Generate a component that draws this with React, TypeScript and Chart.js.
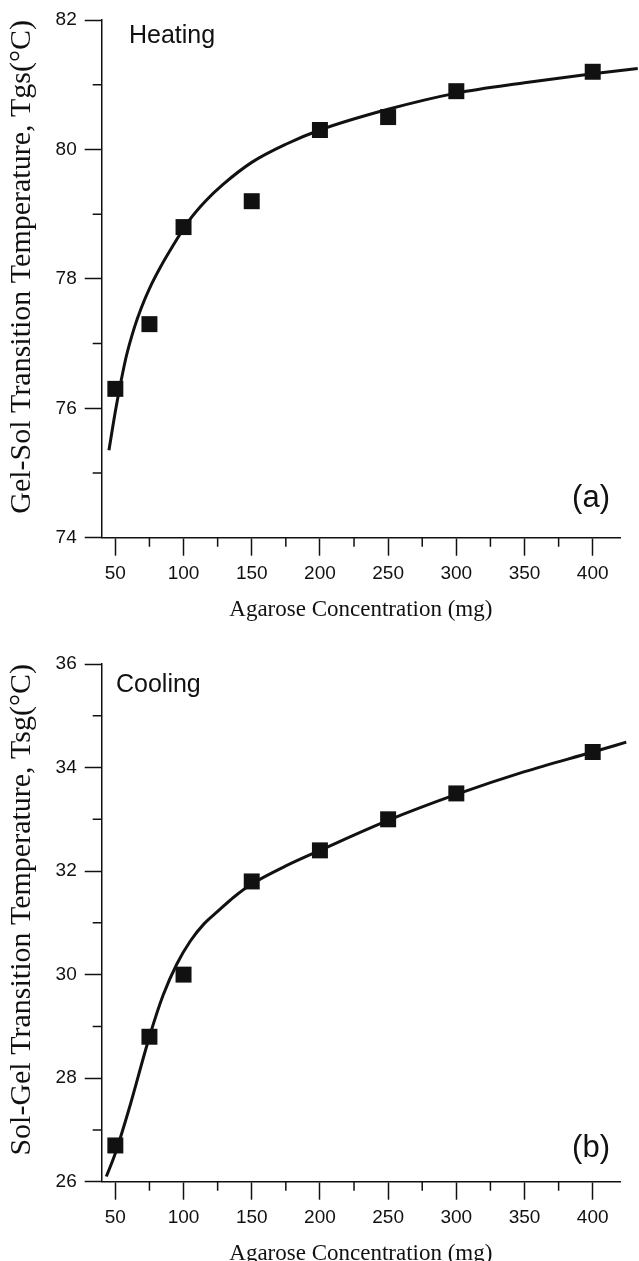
import React, { useEffect, useRef } from 'react';
import { Chart, registerables } from 'chart.js';

Chart.register(...registerables);

// Measured samples (agarose in mg)
const concentrations = [50, 75, 100, 150, 200, 250, 300, 400];
const heatingTemps = [76.3, 77.3, 78.8, 79.2, 80.3, 80.5, 80.9, 81.2];
const coolingTemps = [26.7, 28.8, 30.0, 31.8, 32.4, 33.0, 33.5, 34.3];

// Fitted trend curves
const heatingFitX = [45.3, 50, 54, 58, 64, 69, 75, 83, 91, 104, 116, 129, 150, 175, 200, 250, 300, 350, 400, 433];
const heatingFitY = [75.35, 75.95, 76.4, 76.8, 77.25, 77.55, 77.85, 78.18, 78.47, 78.9, 79.2, 79.46, 79.8, 80.08, 80.3, 80.62, 80.87, 81.03, 81.17, 81.25];
const coolingFitX = [43.4, 50, 60, 75, 85, 95, 105, 115, 125, 137, 150, 175, 200, 250, 300, 350, 400, 424.6];
const coolingFitY = [26.1, 26.55, 27.4, 28.8, 29.6, 30.2, 30.65, 30.98, 31.22, 31.5, 31.75, 32.1, 32.4, 32.98, 33.48, 33.92, 34.3, 34.49];

// Axis ticks
const xTickValues = [50, 100, 150, 200, 250, 300, 350, 400];
const xMinorTicks = [75, 125, 175, 225, 275, 325, 375];
const heatingYTicks = [74, 76, 78, 80, 82];
const heatingYMinor = [75, 77, 79, 81];
const coolingYTicks = [26, 28, 30, 32, 34, 36];
const coolingYMinor = [27, 29, 31, 33, 35];

const INK = '#111111';
const SANS = '"Liberation Sans", Arial, Helvetica, sans-serif';
const SERIF = '"Liberation Serif", "Times New Roman", serif';
const W = 639;
const H = 644;

const panelDecor = {
  id: 'panelDecor',
  afterDraw(chart: any, _args: any, opts: any) {
    const { ctx } = chart;
    const xs = chart.scales.x;
    const ys = chart.scales.y;
    ctx.save();
    ctx.strokeStyle = INK;
    ctx.lineWidth = 1.5;
    ctx.beginPath();
    for (const v of opts.minorX) {
      const px = xs.getPixelForValue(v);
      ctx.moveTo(px, ys.bottom);
      ctx.lineTo(px, ys.bottom + 9);
    }
    for (const v of opts.minorY) {
      const py = ys.getPixelForValue(v);
      ctx.moveTo(xs.left, py);
      ctx.lineTo(xs.left - 9, py);
    }
    ctx.stroke();

    ctx.fillStyle = INK;
    ctx.font = `25px ${SANS}`;
    ctx.textAlign = 'left';
    ctx.textBaseline = 'alphabetic';
    ctx.fillText(opts.name, opts.nameX, opts.nameY);
    ctx.font = `31px ${SANS}`;
    ctx.textAlign = 'right';
    ctx.fillText(opts.letter, opts.letterX, opts.letterY);
    ctx.restore();
  },
};

type Panel = {
  temps: number[];
  fitX: number[];
  fitY: number[];
  yTicks: number[];
  yMinor: number[];
  yTitle: string;
  name: string;
  nameX: number;
  nameY: number;
  letter: string;
  letterY: number;
};

function buildConfig(p: Panel): any {
  return {
    type: 'scatter',
    data: {
      datasets: [
        {
          label: 'fit',
          data: p.fitX.map((x, i) => ({ x, y: p.fitY[i] })),
          showLine: true,
          borderColor: INK,
          borderWidth: 3,
          pointRadius: 0,
          cubicInterpolationMode: 'monotone',
          clip: false,
        },
        {
          label: 'measured',
          data: concentrations.map((x, i) => ({ x, y: p.temps[i] })),
          pointStyle: 'rect',
          pointRadius: 11.3,
          pointBorderWidth: 0,
          backgroundColor: INK,
          borderColor: INK,
          clip: false,
        },
      ],
    },
    options: {
      responsive: false,
      animation: false,
      layout: { padding: { top: 20, right: 19, left: 0, bottom: 0 } },
      plugins: {
        legend: { display: false },
        tooltip: { enabled: false },
        panelDecor: {
          minorX: xMinorTicks,
          minorY: p.yMinor,
          name: p.name,
          nameX: p.nameX,
          nameY: p.nameY,
          letter: p.letter,
          letterX: 610,
          letterY: p.letterY,
        },
      },
      scales: {
        x: {
          type: 'linear',
          min: 40,
          max: 420,
          afterBuildTicks: (s: any) => {
            s.ticks = xTickValues.map((v) => ({ value: v }));
          },
          afterFit: (s: any) => {
            s.height = H - 537.7;
          },
          ticks: {
            autoSkip: false,
            maxRotation: 0,
            padding: 7,
            color: INK,
            font: { family: SANS, size: 19 },
          },
          grid: {
            drawOnChartArea: false,
            drawTicks: true,
            tickLength: 18,
            tickWidth: 1.5,
            tickColor: INK,
          },
          border: { display: true, color: INK, width: 1.5 },
          title: {
            display: true,
            text: 'Agarose Concentration (mg)',
            color: INK,
            font: { family: SERIF, size: 23 },
            padding: { top: 0, bottom: 20 },
          },
        },
        y: {
          type: 'linear',
          min: p.yTicks[0],
          max: p.yTicks[p.yTicks.length - 1],
          afterBuildTicks: (s: any) => {
            s.ticks = p.yTicks.map((v) => ({ value: v }));
          },
          afterFit: (s: any) => {
            s.width = 101.7;
          },
          ticks: {
            padding: 8,
            color: INK,
            font: { family: SANS, size: 19 },
          },
          grid: {
            drawOnChartArea: false,
            drawTicks: true,
            tickLength: 17,
            tickWidth: 1.5,
            tickColor: INK,
          },
          border: { display: true, color: INK, width: 1.5 },
          title: {
            display: true,
            text: p.yTitle,
            align: 'end',
            color: INK,
            font: { family: SERIF, size: 30 },
            padding: { top: 4, bottom: 0 },
          },
        },
      },
    },
    plugins: [panelDecor],
  };
}

const heatingPanel: Panel = {
  temps: heatingTemps,
  fitX: heatingFitX,
  fitY: heatingFitY,
  yTicks: heatingYTicks,
  yMinor: heatingYMinor,
  yTitle: 'Gel-Sol Transition Temperature, Tgs(°C)',
  name: 'Heating',
  nameX: 129,
  nameY: 43,
  letter: '(a)',
  letterY: 507,
};

const coolingPanel: Panel = {
  temps: coolingTemps,
  fitX: coolingFitX,
  fitY: coolingFitY,
  yTicks: coolingYTicks,
  yMinor: coolingYMinor,
  yTitle: 'Sol-Gel Transition Temperature, Tsg(°C)',
  name: 'Cooling',
  nameX: 116,
  nameY: 48,
  letter: '(b)',
  letterY: 513,
};

function PanelChart({ panel }: { panel: Panel }) {
  const ref = useRef<HTMLCanvasElement | null>(null);
  useEffect(() => {
    if (!ref.current) return;
    const chart = new Chart(ref.current, buildConfig(panel));
    return () => chart.destroy();
  }, [panel]);
  return <canvas ref={ref} width={W} height={H} style={{ display: 'block', width: W, height: H }} />;
}

export default function App() {
  return (
    <div
      style={{
        position: 'absolute',
        left: 0,
        top: 0,
        width: W,
        height: 1261,
        overflow: 'hidden',
        background: '#fff',
      }}
    >
      <PanelChart panel={heatingPanel} />
      <PanelChart panel={coolingPanel} />
    </div>
  );
}
